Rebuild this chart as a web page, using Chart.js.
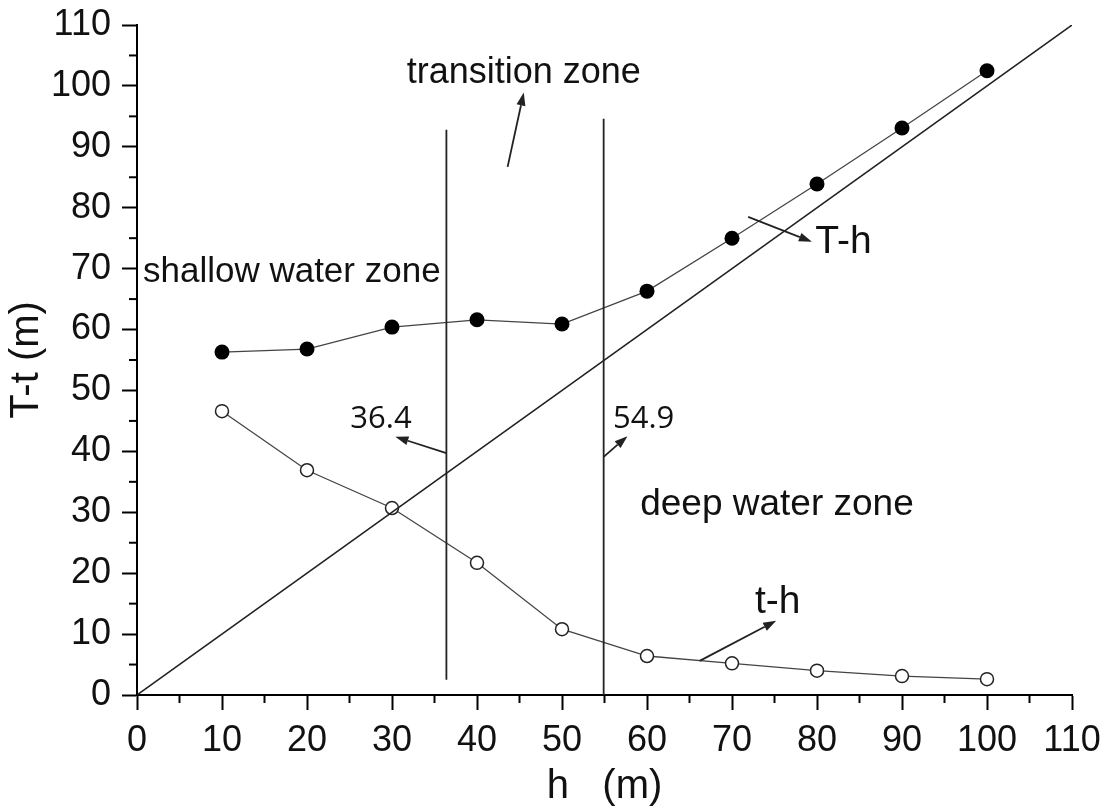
<!DOCTYPE html>
<html>
<head>
<meta charset="utf-8">
<script src="https://cdn.jsdelivr.net/npm/chart.js@4/dist/chart.umd.min.js"></script>
<style>
  html, body { margin: 0; padding: 0; background: #fff; }
  #wrap { width: 1117px; height: 811px; }
</style>
</head>
<body>
<div id="wrap"><canvas id="depthChart"></canvas></div>
<script>
// water depth h (m)
const depths = [10, 20, 30, 40, 50, 60, 70, 80, 90, 100];
// T-h, filled markers
const bigT = [56.3, 56.8, 60.4, 61.6, 60.9, 66.3, 75.0, 83.9, 93.1, 102.5];
// t-h, open markers
const smallT = [46.6, 36.9, 30.7, 21.7, 10.8, 6.4, 5.2, 4.0, 3.1, 2.6];

// T = h reference line
const refLine = [[0, 0], [110, 110]];
// zone boundaries: x, bottom, top
const boundaries = [[36.4, 2.5, 92.8], [54.9, 0, 94.6]];

const minorTicks = [5, 15, 25, 35, 45, 55, 65, 75, 85, 95, 105];

const labelFont = '"Liberation Sans", Arial, sans-serif';
// text: [string, x, y(baseline), size, family, align]
const notes = [
  ["transition zone", 45.5, 100.4, 36, labelFont, "center"],
  ["shallow water zone", 0.7, 67.8, 35, labelFont, "left"],
  ["deep water zone", 59.2, 29.6, 37, labelFont, "left"],
  ["36.4", 25.1, 43.8, 31, '"Open Sans", sans-serif', "left"],
  ["54.9", 56.0, 43.8, 31, '"Open Sans", sans-serif', "left"],
  ["T-h", 79.8, 72.6, 39, labelFont, "left"],
  ["t-h", 72.7, 13.5, 39, labelFont, "left"]
];
// arrows: from -> to (head)
const arrows = [
  [[43.6, 86.7], [45.5, 98.9]],
  [[36.4, 39.7], [30.4, 42.4]],
  [[54.9, 39.1], [57.7, 42.5]],
  [[71.9, 78.5], [79.4, 74.4]],
  [[66.2, 5.6], [75.2, 12.2]]
];

const ink = "#222";

function pairs(xs, ys) {
  return xs.map((x, i) => ({ x, y: ys[i] }));
}

const datasets = [
  {
    data: refLine.map(([x, y]) => ({ x, y })),
    borderColor: ink, borderWidth: 1.5, pointRadius: 0
  },
  ...boundaries.map(([x, lo, hi]) => ({
    data: [{ x, y: lo }, { x, y: hi }],
    borderColor: ink, borderWidth: 1.8, pointRadius: 0
  })),
  {
    data: pairs(depths, smallT),
    borderColor: "#444", borderWidth: 1.3,
    pointRadius: 6.5, pointBorderWidth: 1.5,
    pointBackgroundColor: "#fff", pointBorderColor: ink
  },
  {
    data: pairs(depths, bigT),
    borderColor: "#444", borderWidth: 1.3,
    pointRadius: 7.5, pointBorderWidth: 0,
    pointBackgroundColor: "#000", pointBorderColor: "#000"
  }
];

const annotate = {
  id: "annotate",
  afterDraw(chart) {
    const { ctx, scales: { x, y } } = chart;
    ctx.save();
    ctx.strokeStyle = "#000";
    ctx.lineWidth = 2;
    // minor ticks
    minorTicks.forEach((v) => {
      const px = x.getPixelForValue(v);
      ctx.beginPath();
      ctx.moveTo(px, y.bottom);
      ctx.lineTo(px, y.bottom + 8);
      ctx.stroke();
      const py = y.getPixelForValue(v);
      ctx.beginPath();
      ctx.moveTo(x.left - 8, py);
      ctx.lineTo(x.left, py);
      ctx.stroke();
    });
    // arrows
    ctx.strokeStyle = ink;
    ctx.fillStyle = ink;
    ctx.lineWidth = 1.8;
    arrows.forEach(([a, b]) => {
      const x1 = x.getPixelForValue(a[0]), y1 = y.getPixelForValue(a[1]);
      const x2 = x.getPixelForValue(b[0]), y2 = y.getPixelForValue(b[1]);
      const ang = Math.atan2(y2 - y1, x2 - x1);
      const len = 13, half = 4.5;
      const bx = x2 - len * Math.cos(ang), by = y2 - len * Math.sin(ang);
      ctx.beginPath();
      ctx.moveTo(x1, y1);
      ctx.lineTo(bx, by);
      ctx.stroke();
      ctx.beginPath();
      ctx.moveTo(x2, y2);
      ctx.lineTo(bx + half * Math.sin(ang), by - half * Math.cos(ang));
      ctx.lineTo(bx - half * Math.sin(ang), by + half * Math.cos(ang));
      ctx.closePath();
      ctx.fill();
    });
    // zone and curve labels
    ctx.fillStyle = "#111";
    ctx.textBaseline = "alphabetic";
    notes.forEach(([text, vx, vy, size, family, align]) => {
      ctx.font = `${size}px ${family}`;
      ctx.textAlign = align;
      ctx.fillText(text, x.getPixelForValue(vx), y.getPixelForValue(vy));
    });
    ctx.restore();
  }
};

const axisTicks = {
  color: "#111",
  font: { family: labelFont, size: 36 },
  stepSize: 10,
  autoSkip: false
};
const axisGrid = {
  drawOnChartArea: false,
  drawTicks: true,
  tickLength: 15,
  tickWidth: 2,
  tickColor: "#000"
};

new Chart(document.getElementById("depthChart"), {
  type: "scatter",
  data: { datasets },
  options: {
    responsive: true,
    maintainAspectRatio: false,
    animation: false,
    showLine: true,
    layout: { padding: { top: 25, right: 45, left: 0, bottom: 0 } },
    plugins: { legend: { display: false }, tooltip: { enabled: false } },
    scales: {
      x: {
        type: "linear",
        min: 0, max: 110,
        ticks: { ...axisTicks, padding: 9, maxRotation: 0 },
        grid: axisGrid,
        border: { color: "#000", width: 2 },
        title: {
          display: true, text: "h   (m)", color: "#111",
          font: { family: labelFont, size: 40 },
          padding: { top: 0, bottom: 0 }
        },
        afterFit(scale) {
          scale.height = 116;
          scale.paddingLeft = 0;
          scale.paddingRight = 0;
        }
      },
      y: {
        type: "linear",
        min: 0, max: 110,
        ticks: { ...axisTicks, padding: 11 },
        grid: axisGrid,
        border: { color: "#000", width: 2 },
        title: {
          display: true, text: "T-t (m)", color: "#111",
          font: { family: labelFont, size: 40 },
          padding: { top: 3, bottom: 0 }
        },
        afterFit(scale) {
          scale.width = 137;
          scale.paddingTop = 0;
          scale.paddingBottom = 0;
        }
      }
    }
  },
  plugins: [annotate]
});
</script>
</body>
</html>
